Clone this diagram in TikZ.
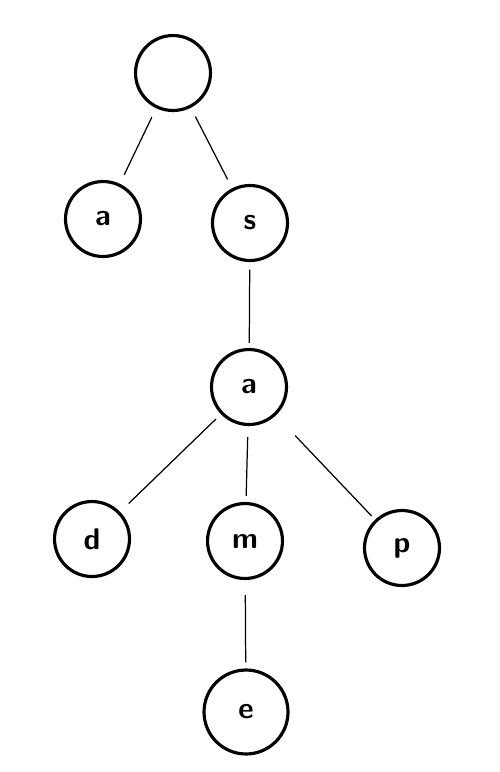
\documentclass[tikz,border=0pt]{standalone}
\usepackage{tikz}
\usetikzlibrary{positioning}

\begin{document}
\begin{tikzpicture}[x=0.02cm, y=-0.02cm,
    trienode/.style={circle, draw, line width=1.8pt, minimum size=1.5cm,
                     inner sep=0pt, font=\sffamily\bfseries\fontsize{17}{17}\selectfont},
    edge/.style={line width=0.7pt, shorten <=0.2cm, shorten >=0.2cm}]
  \useasboundingbox (0,0) rectangle (500,772);

  % Root and first level
  \node[trienode] (root) at (173,73) {};
  \node[trienode] (a) at (103,219) {a};
  \node[trienode] (s) at (250,223) {s};

  % Below s
  \node[trienode] (sa) at (249,387) {a};
  \node[trienode] (d) at (92,539) {d};
  \node[trienode] (m) at (245,541) {m};
  \node[trienode] (p) at (402,548) {p};
  \node[trienode, minimum size=1.68cm] (e) at (246,712) {e};

  % Edges
  \draw[edge] (root) -- (a);
  \draw[edge] (root) -- (s);
  \draw[edge, shorten <=0.15cm, shorten >=0.1cm] (s) -- (sa);
  \draw[edge, shorten <=0.14cm, shorten >=0.24cm] (sa) -- (d);
  \draw[edge, shorten <=0.22cm, shorten >=0.12cm] (sa) -- (m);
  \draw[edge, shorten <=0.56cm, shorten >=0.1cm] (sa) -- (p);
  \draw[edge, shorten <=0.3cm, shorten >=0.12cm] (m) -- (e);
\end{tikzpicture}
\end{document}
